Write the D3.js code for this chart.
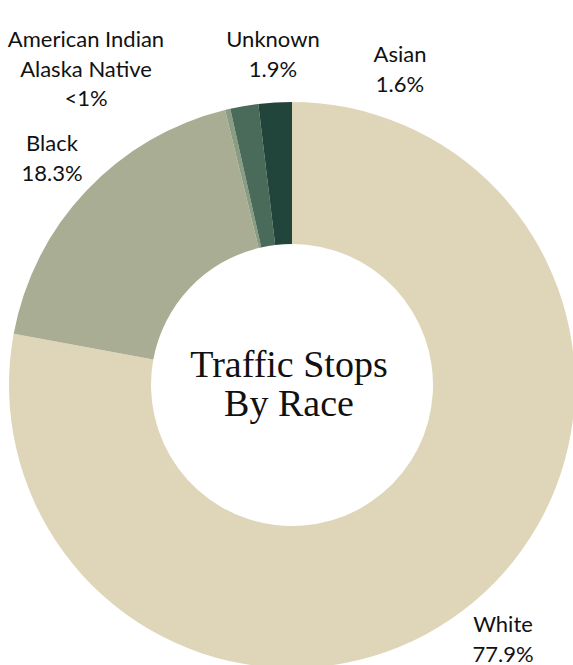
<!DOCTYPE html>
<html><head><meta charset="utf-8">
<script src="https://cdn.jsdelivr.net/npm/d3@7"></script>
<style>html,body{margin:0;padding:0;background:#fff;overflow:hidden}</style>
</head><body>
<svg id="chart" width="573" height="665"></svg>
<script>
const categories = ["White", "Black", "American Indian Alaska Native", "Asian", "Unknown"];
const values = [77.9, 18.3, 0.3, 1.6, 1.9];
const labelLines = [["White", "77.9%"], ["Black", "18.3%"], ["American Indian", "Alaska Native", "<1%"], ["Asian", "1.6%"], ["Unknown", "1.9%"]];
const colors = ["#dfd6ba", "#a9ad93", "#8a9c82", "#4a6a5a", "#21443b"];
const titleLines = ["Traffic Stops", "By Race"];

const svg = d3.select("#chart");
const cx = 292, cy = 385, outerR = 283, innerR = 141;
const g = svg.append("g").attr("transform", `translate(${cx},${cy})`);

const data = categories.map((c, i) => ({cat: c, value: values[i], lines: labelLines[i]}));
const pie = d3.pie().sort(null).value(d => d.value);
const arc = d3.arc().innerRadius(innerR).outerRadius(outerR);
const color = d3.scaleOrdinal().domain(categories).range(colors);

g.selectAll("path.slice").data(pie(data)).join("path")
  .attr("class", "slice")
  .attr("d", arc)
  .attr("fill", d => color(d.data.cat));

// label anchor positions (centre x, first baseline y) in page coords
const labelPos = {
  "White": [503, 632],
  "Black": [52, 151],
  "American Indian Alaska Native": [86, 47],
  "Asian": [400, 62],
  "Unknown": [273, 47]
};
const lh = 29.6;
data.forEach(d => {
  const [x, y] = labelPos[d.cat];
  const t = svg.append("text")
    .attr("text-anchor", "middle")
    .attr("font-family", "Lato, sans-serif")
    .attr("font-size", 22)
    .attr("fill", "#111");
  d.lines.forEach((l, i) => {
    t.append("tspan").attr("x", x).attr("y", y + i * lh).text(l);
  });
});

const title = svg.append("text")
  .attr("text-anchor", "middle")
  .attr("font-family", "'Liberation Serif', 'Times New Roman', serif")
  .attr("font-size", 38)
  .attr("fill", "#111");
titleLines.forEach((l, i) => {
  title.append("tspan").attr("x", 289).attr("y", 377 + i * 38.5).text(l);
});
</script>
</body></html>
